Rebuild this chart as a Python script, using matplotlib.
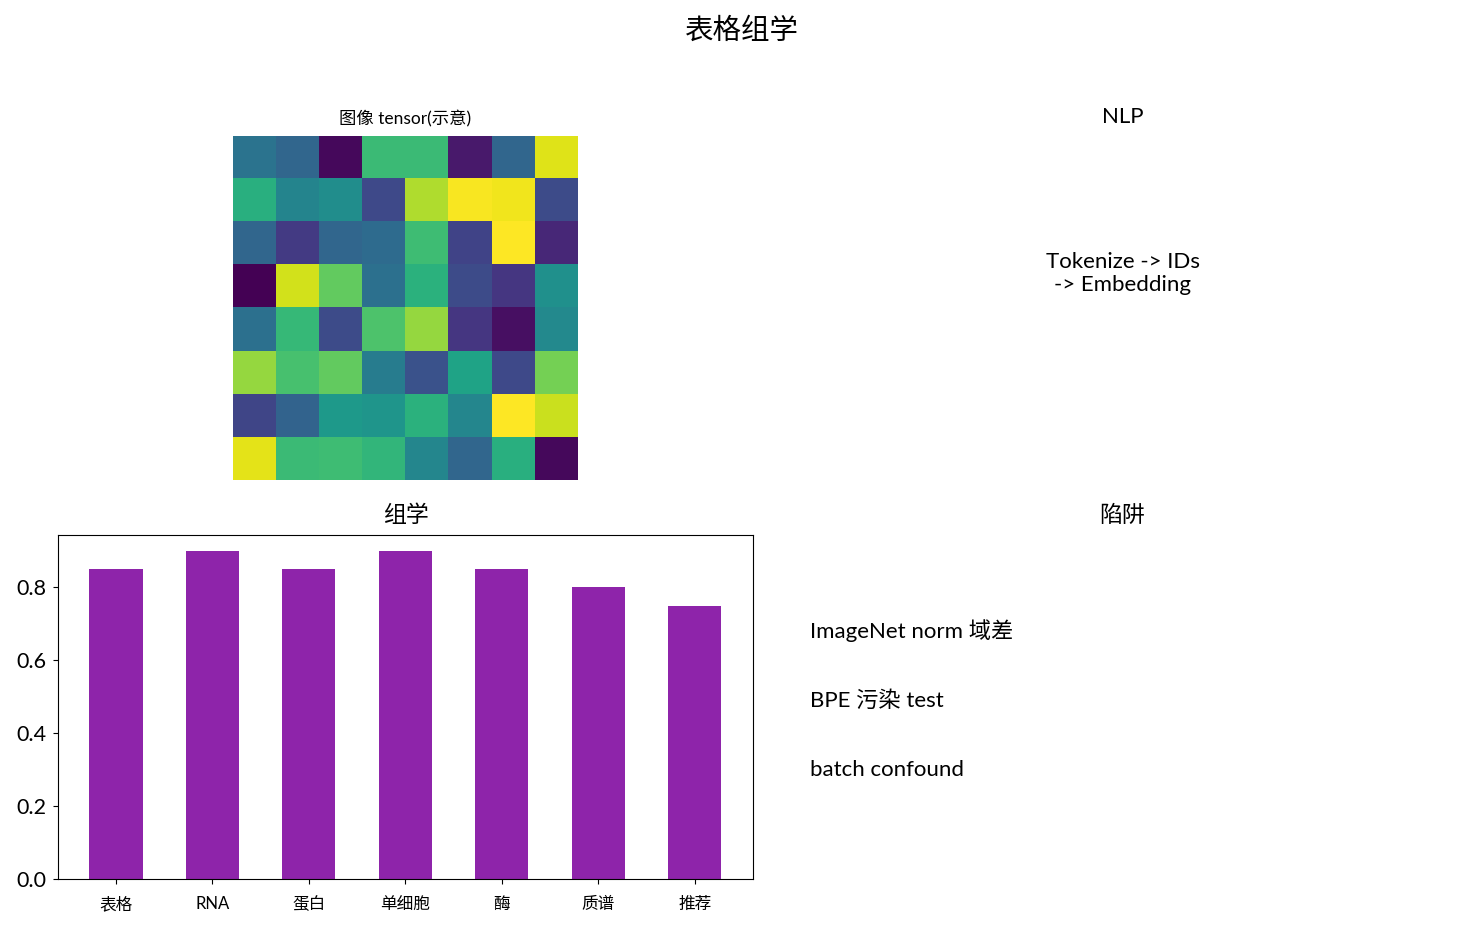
import numpy as np
import matplotlib
matplotlib.use('Agg')
import matplotlib.pyplot as plt

plt.rcParams['font.family'] = ['Lato', 'Noto Sans CJK SC', 'DejaVu Sans']

# heatmap values (viridis scale 0..1)
img = np.array([
    [0.38, 0.33, 0.02, 0.68, 0.68, 0.07, 0.33, 0.95],
    [0.63, 0.45, 0.49, 0.22, 0.88, 0.99, 0.98, 0.23],
    [0.33, 0.17, 0.33, 0.35, 0.69, 0.20, 1.00, 0.11],
    [0.00, 0.93, 0.76, 0.37, 0.64, 0.23, 0.16, 0.50],
    [0.37, 0.67, 0.23, 0.72, 0.84, 0.16, 0.04, 0.47],
    [0.84, 0.71, 0.76, 0.42, 0.25, 0.58, 0.22, 0.79],
    [0.21, 0.32, 0.54, 0.52, 0.64, 0.46, 1.00, 0.92],
    [0.96, 0.68, 0.69, 0.66, 0.46, 0.33, 0.63, 0.02],
])

omics = ['表格', 'RNA', '蛋白', '单细胞', '酶', '质谱', '推荐']
scores = [0.85, 0.9, 0.85, 0.9, 0.85, 0.8, 0.75]

nlp_text = 'Tokenize -> IDs\n-> Embedding'
pitfalls = ['ImageNet norm 域差', 'BPE 污染 test', 'batch confound']

fig, axes = plt.subplots(2, 2, figsize=(14.84, 9.25), dpi=100)
fig.subplots_adjust(left=0.039, right=0.9906, top=0.853, bottom=0.0497,
                    wspace=0.0317, hspace=0.157)
fig.suptitle('表格组学', fontsize=20.5, y=0.967, va='center')

# image tensor
ax = axes[0, 0]
ax.imshow(img, cmap='viridis')
ax.set_title('图像 tensor(示意)', fontsize=12.5, pad=8)
ax.axis('off')

# NLP
ax = axes[0, 1]
ax.axis('off')
ax.set_title('NLP', fontsize=16, pad=9)
ax.text(0.5, 0.6, nlp_text, ha='center', va='center', fontsize=16,
        transform=ax.transAxes)

# omics bars
ax = axes[1, 0]
ax.bar(range(len(omics)), scores, width=0.55, color='#8e24aa')
ax.set_xticks(range(len(omics)))
ax.set_xticklabels(omics, fontsize=12)
ax.tick_params(axis='x', pad=9)
ax.tick_params(axis='y', labelsize=15.5, pad=5)
ax.set_title('组学', fontsize=16.5, pad=9)

# pitfalls
ax = axes[1, 1]
ax.axis('off')
ax.set_title('陷阱', fontsize=16.5, pad=9)
for i, t in enumerate(pitfalls):
    ax.text(0.05, 0.7 - 0.2 * i, t, fontsize=16, transform=ax.transAxes)

fig.savefig('out.png')
